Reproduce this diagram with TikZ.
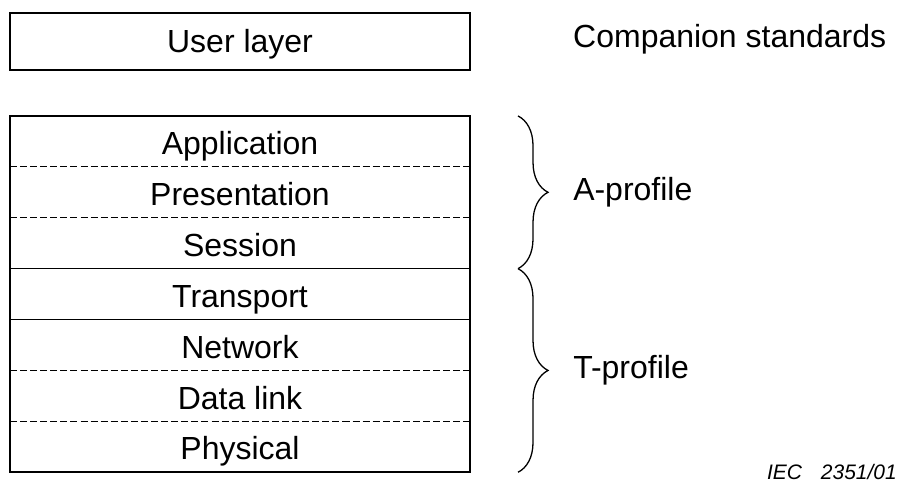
\documentclass[tikz,border=0pt]{standalone}
\usepackage{fontspec}
\setmainfont{Liberation Sans}
\usetikzlibrary{positioning,decorations.pathreplacing}

\begin{document}
\begin{tikzpicture}[
    x=0.03cm, y=-0.03cm,
    every node/.style={font=\fontsize{27.3}{32}\selectfont, inner sep=0pt},
    layer/.style={
        minimum width=13.8cm,
        minimum height=1.527cm,
        text height=22.4pt,
        text depth=0pt,
        outer sep=0pt
    },
    boxline/.style={line width=1.4pt},
    sepline/.style={line width=1pt, dash pattern=on 6pt off 2.6pt},
    profile/.style={
        decorate,
        decoration={brace, amplitude=0.9cm},
        line width=1.1pt
    }
]
\useasboundingbox (0,0) rectangle (901,482);

\node[layer, draw, boxline, minimum height=1.71cm, text height=18pt] (user) at (240,41.5) {User layer};
\node[anchor=base west] (comp) at (573,48) {Companion standards};

% seven layer stack
\node[layer] (app) at (240,141.4) {Application};
\node[layer, below=0pt of app] (pres) {Presentation};
\node[layer, below=0pt of pres] (ses) {Session};
\node[layer, below=0pt of ses] (trans) {Transport};
\node[layer, below=0pt of trans] (net) {Network};
\node[layer, below=0pt of net] (dlink) {Data link};
\node[layer, below=0pt of dlink] (phy) {Physical};

\draw[boxline] (app.north west) rectangle (phy.south east);
\draw[sepline] (app.south west) -- (app.south east);
\draw[sepline] (pres.south west) -- (pres.south east);
\draw[boxline] (ses.south west) -- (ses.south east);
\draw[line width=1.1pt] (trans.south west) -- (trans.south east);
\draw[sepline] (net.south west) -- (net.south east);
\draw[sepline] (dlink.south west) -- (dlink.south east);

% profiles
\coordinate (atop) at ([xshift=1.44cm]app.north east);
\coordinate (amid) at ([xshift=1.44cm]ses.south east);
\coordinate (tbot) at ([xshift=1.44cm]phy.south east);
\draw[profile] (atop) -- (amid);
\draw[profile] (amid) -- (tbot);

\node[anchor=west] (aprof) at ([xshift=3.09cm]pres.east) {A-profile};
\node[anchor=west] (tprof) at ([xshift=3.09cm]net.south east) {T-profile};

\node[anchor=base east, font=\fontsize{17.9}{21}\selectfont\itshape] (iec) at (897,479) {IEC\hspace{0.9em}2351/01};

\end{tikzpicture}
\end{document}
